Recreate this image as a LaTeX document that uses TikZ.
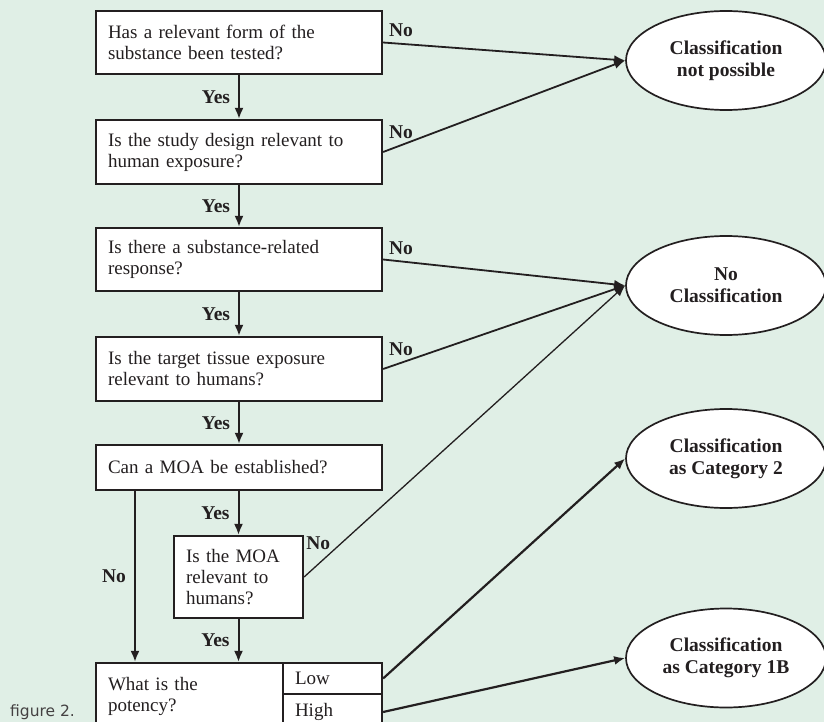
\documentclass[tikz,border=0pt]{standalone}
\usepackage{xcolor}
\usepackage{fontspec}
\setmainfont{Liberation Serif}
\newfontfamily\figfont{DejaVu Sans}
\usepackage{tikz}
\usetikzlibrary{positioning,shapes.geometric,arrows.meta}

\definecolor{bggreen}{HTML}{E0EFE6}
\definecolor{ink}{HTML}{231F20}

\tikzset{
	qbox/.style={draw=ink, line width=2.2pt, fill=white, align=left, inner xsep=12pt, inner ysep=0pt, text=ink, font=\fontsize{19}{21}\selectfont},
	outcome/.style={ellipse, draw=ink, line width=1.7pt, fill=white, minimum width=200pt, minimum height=99pt, inner sep=0pt, align=center, text=ink, font=\fontsize{19.5}{22}\selectfont\bfseries},
	arr/.style={-{Latex[length=11pt,width=9pt]}, line width=2pt, draw=ink},
	lbl/.style={text=ink, font=\fontsize{19.5}{21}\selectfont\bfseries},
}

\begin{document}
\begin{tikzpicture}[x=1pt, y=-1pt]
	\path[clip] (0,0) rectangle (824,722);
	\fill[bggreen] (0,0) rectangle (824,722);

	\node[qbox, text width=262pt, minimum height=63pt] (q1) at (239,42.5) {Has a relevant form of the\\substance been tested?};
	\node[qbox, text width=262pt, minimum height=64pt] (q2) at (239,152) {Is the study design relevant to\\human exposure?};
	\node[qbox, text width=262pt, minimum height=63pt] (q3) at (239,259.5) {Is there a substance-related\\response?};
	\node[qbox, text width=262pt, minimum height=64pt] (q4) at (239,369) {Is the target tissue exposure\\relevant to humans?};
	\node[qbox, text width=262pt, minimum height=45pt] (q5) at (239,467.5) {Can a MOA be established?};
	\node[qbox, text width=105pt, minimum height=82pt] (q6) at (238.5,577) {Is the MOA\\relevant to\\humans?};
	\node[qbox, text width=163pt, minimum height=67pt] (q7) at (189.5,696.5) {What is the\\potency?};
	\node[qbox, text width=75pt, minimum height=31pt] (low) at (332.5,678.5) {Low};
	\node[qbox, text width=75pt, minimum height=36pt] (high) at (332.5,712) {High};

	\node[outcome] (e1) at (726,60.5) {Classification\\not possible};
	\node[outcome] (e2) at (726,285.5) {No\\Classification};
	\node[outcome] (e3) at (726,458.5) {Classification\\as Category 2};
	\node[outcome] (e4) at (726,658) {Classification\\as Category 1B};

	\coordinate (nox) at (135,0);

	\draw[arr] (q1) -- node[midway, left, lbl, inner sep=8pt] {Yes} (q2);
	\draw[arr] (q2) -- node[midway, left, lbl, inner sep=8pt] {Yes} (q3);
	\draw[arr] (q3) -- node[midway, left, lbl, inner sep=8pt] {Yes} (q4);
	\draw[arr] (q4) -- node[midway, left, lbl, inner sep=8pt] {Yes} (q5);
	\draw[arr] (q5.south -| q6.north) -- node[midway, left, lbl, inner sep=8pt] {Yes} (q6.north);
	\draw[arr] (q6.south) -- node[midway, left, lbl, inner sep=8pt] {Yes} (q6.south |- q7.north);
	\draw[arr] (q5.south -| nox) -- node[midway, left, lbl, inner sep=8pt] {No} (q7.north -| nox);

	\draw[arr, line width=1.8pt] (q1.east) -- node[pos=0.074, above, lbl, inner sep=6pt] {No} (e1.west);
	\draw[arr, line width=1.8pt] (q2.east) -- node[pos=0.074, above, lbl, inner sep=6pt] {No} (e1.west);
	\draw[arr, line width=1.8pt] (q3.east) -- node[pos=0.074, above, lbl, inner sep=6pt] {No} (e2.west);
	\draw[arr, line width=1.8pt] (q4.east) -- node[pos=0.074, above, lbl, inner sep=6pt] {No} (e2.west);
	\draw[arr, line width=1.3pt] (q6.east) -- (e2.west);
	\node[lbl, anchor=north west, inner sep=2pt] (nomoa) at (q6.north east) {No};
	\draw[arr, line width=2.2pt] (low.east) -- (e3.west);
	\draw[arr, line width=2.2pt] (high.east) -- (e4.west);

	\node[anchor=base west, inner sep=0pt, text=ink!85, font=\figfont\fontsize{15.5}{18}\selectfont] (fig) at (10,716) {figure 2.};
\end{tikzpicture}
\end{document}
